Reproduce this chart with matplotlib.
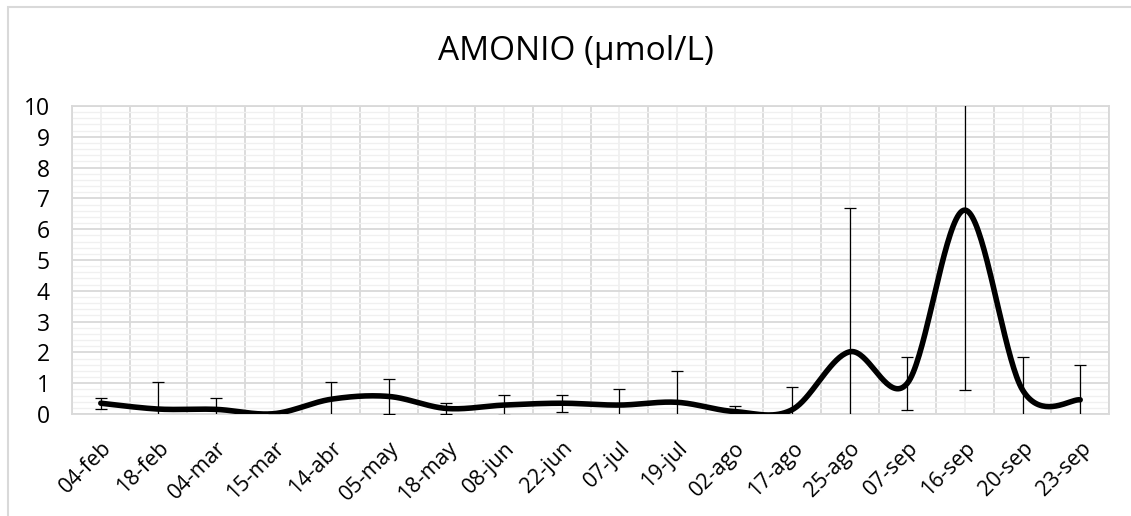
import numpy as np
import matplotlib
matplotlib.use("Agg")
import matplotlib.pyplot as plt
from matplotlib.patches import Rectangle
from matplotlib.ticker import MultipleLocator, FixedLocator

# values
fechas = ["04-feb", "18-feb", "04-mar", "15-mar", "14-abr", "05-may", "18-may",
          "08-jun", "22-jun", "07-jul", "19-jul", "02-ago", "17-ago", "25-ago",
          "07-sep", "16-sep", "20-sep", "23-sep"]
amonio = [0.35, 0.16, 0.15, 0.01, 0.48, 0.57, 0.18, 0.29, 0.35, 0.29, 0.38,
          0.08, 0.14, 2.02, 1.0, 6.62, 0.78, 0.46]
desv = [0.18, 0.88, 0.36, 0.05, 0.57, 0.58, 0.19, 0.32, 0.27, 0.52, 1.02,
        0.19, 0.75, 4.66, 0.86, 5.84, 1.08, 1.13]

plt.rcParams['font.family'] = ['Open Sans', 'DejaVu Sans']


def smooth_line(x, y, n=40):
    """Excel-like smoothed line (Catmull-Rom as cubic Bezier)."""
    x = np.asarray(x, float)
    y = np.asarray(y, float)
    px = np.concatenate([[x[0]], x, [x[-1]]])
    py = np.concatenate([[y[0]], y, [y[-1]]])
    t = np.linspace(0, 1, n)[:, None]
    xs, ys = [], []
    for i in range(len(x) - 1):
        p0 = np.array([px[i + 1], py[i + 1]])
        p3 = np.array([px[i + 2], py[i + 2]])
        c1 = p0 + (p3 - np.array([px[i], py[i]])) / 6
        c2 = p3 - (np.array([px[i + 3], py[i + 3]]) - p0) / 6
        pts = ((1 - t) ** 3 * p0 + 3 * (1 - t) ** 2 * t * c1
               + 3 * (1 - t) * t ** 2 * c2 + t ** 3 * p3)
        xs.append(pts[:, 0])
        ys.append(pts[:, 1])
    return np.concatenate(xs), np.concatenate(ys)


fig = plt.figure(figsize=(11.31, 5.16), dpi=100)
ax = fig.add_axes([72 / 1131, 1 - 414 / 516, 1037 / 1131, 308 / 516])

# chart border
fig.patches.append(Rectangle((8 / 1131, -0.2), 1.2, 0.2 + 1 - 7 / 516,
                             transform=fig.transFigure, fill=False,
                             edgecolor="#d9d9d9", linewidth=1.5))

xpos = np.arange(len(fechas))
sx, sy = smooth_line(xpos, amonio)
ax.plot(sx, sy, color="black", linewidth=4.0, solid_capstyle="round", zorder=3)
ax.errorbar(xpos, amonio, yerr=desv, fmt="none", ecolor="black",
            elinewidth=0.9, capsize=4.5, capthick=0.9, zorder=4)

ax.set_xlim(-0.5, len(fechas) - 0.5)
ax.set_ylim(0, 10)
ax.yaxis.set_major_locator(MultipleLocator(1))
ax.yaxis.set_minor_locator(MultipleLocator(0.2))
ax.xaxis.set_major_locator(FixedLocator(xpos))
ax.xaxis.set_minor_locator(FixedLocator(np.arange(-0.5, len(fechas), 1.0)))

ax.grid(False)
ax.grid(which="minor", axis="y", color="#f0f0f0", linewidth=1.0, zorder=0)
ax.grid(which="major", axis="x", color="#f0f0f0", linewidth=1.3, zorder=0)
ax.grid(which="minor", axis="x", color="#d9d9d9", linewidth=1.3, zorder=1)
ax.grid(which="major", axis="y", color="#d9d9d9", linewidth=1.3, zorder=1)
ax.set_axisbelow(True)
for s in ax.spines.values():
    s.set_color("#d9d9d9")
    s.set_linewidth(1.3)

ax.set_xticks(xpos)
ax.set_xticklabels(fechas, rotation=45, ha="right", va="top",
                   rotation_mode="anchor", fontsize=15.5)
ax.tick_params(axis="x", which="both", length=0, pad=17)
ax.tick_params(axis="y", which="both", length=0, pad=16, labelsize=16.5)

fig.text(576 / 1131, 1 - 51 / 516, "AMONIO (µmol/L)", ha="center",
         va="center", fontsize=24)

fig.savefig("out.png", dpi=100)
